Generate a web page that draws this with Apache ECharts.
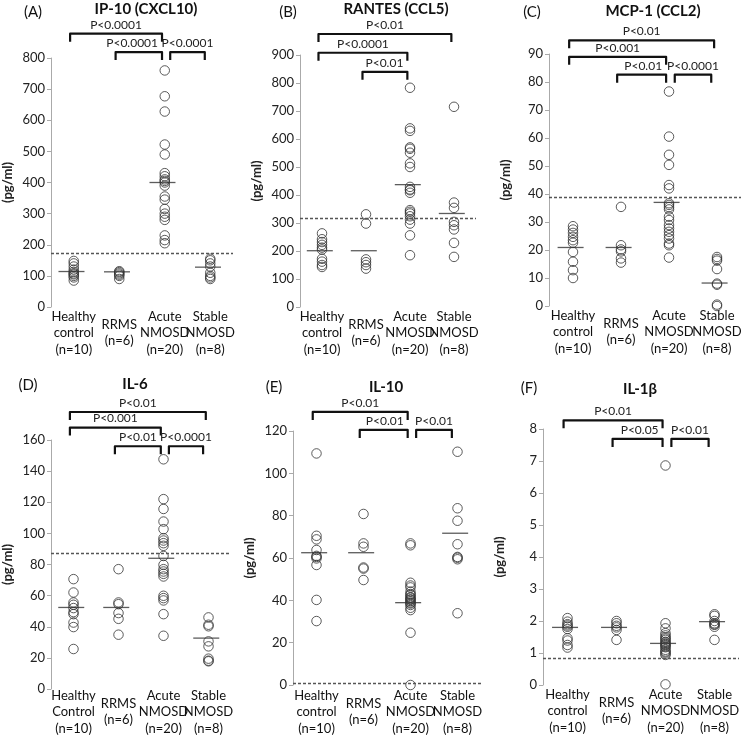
<!DOCTYPE html>
<html>
<head>
<meta charset="utf-8">
<script src="https://cdn.jsdelivr.net/npm/echarts@6/dist/echarts.min.js"></script>
<style>
  html, body { margin: 0; padding: 0; background: #fff; }
  #chart { width: 750px; height: 737px; }
</style>
</head>
<body>
<div id="chart"></div>
<script>
// grupos (eje x)
const groupsLower = ['Healthy\ncontrol\n(n=10)', 'RRMS\n(n=6)', 'Acute\nNMOSD\n(n=20)', 'Stable\nNMOSD\n(n=8)'];
const groupsUpper = ['Healthy\nControl\n(n=10)', 'RRMS\n(n=6)', 'Acute\nNMOSD\n(n=20)', 'Stable\nNMOSD\n(n=8)'];

// (A) IP-10
const ip10Values = [
  [148, 140, 130, 120, 113, 108, 105, 100, 95, 85],
  [115, 112, 108, 104, 100, 90],
  [760, 677, 628, 522, 490, 430, 420, 410, 405, 400, 390, 355, 345, 315, 300, 290, 280, 230, 215, 205],
  [155, 150, 140, 130, 110, 100, 95, 90]
];
const ip10Medians = [114, 113, 400, 128];
const ip10Cutoff = 173;
const ip10Brackets = [[0, 2, 878, 'P<0.0001'], [1, 2, 819, 'P<0.0001'], [2, 3, 819, 'P<0.0001']];

// (B) RANTES
const rantesValues = [
  [263, 242, 232, 222, 212, 205, 172, 162, 150, 143],
  [331, 298, 170, 160, 150, 137],
  [783, 638, 629, 570, 565, 551, 513, 500, 429, 420, 417, 408, 346, 340, 334, 324, 312, 298, 256, 185],
  [715, 373, 354, 304, 292, 277, 229, 179]
];
const rantesMedians = [201, 201, 437, 334];
const rantesCutoff = 318;
const rantesBrackets = [[0, 3, 975, 'P<0.01'], [0, 2, 908, 'P<0.0001'], [1, 2, 840, 'P<0.01']];

// (C) MCP-1
const mcp1Values = [
  [28.5, 27.3, 26.1, 24.7, 23.5, 22.6, 19.3, 15.8, 12.8, 10],
  [35.4, 21.7, 20.2, 19.5, 17, 15.5],
  [76.6, 60.5, 54, 50.4, 43.2, 42, 36.7, 36.1, 35.3, 34.5, 31.9, 30.7, 28.9, 27.7, 26.5, 25.3, 24.1, 22.3, 21.7, 17.3],
  [17.5, 16.8, 16.2, 13.2, 8, 7.6, 0.5, 0]
];
const mcp1Medians = [20.9, 20.9, 37, 8.2];
const mcp1Cutoff = 38.7;
const mcp1Brackets = [[0, 3, 94.9, 'P<0.01'], [0, 2, 89, 'P<0.001'], [1, 2, 82.6, 'P<0.01'], [2, 3, 82.6, 'P<0.0001']];

// (D) IL-6
const il6Values = [
  [70.6, 62, 55.6, 54.1, 52, 49.4, 48.1, 42.7, 39.8, 25.7],
  [77, 55.6, 54.5, 48.8, 45.1, 34.9],
  [147.6, 122, 115.7, 107.6, 102.7, 96.9, 95.4, 93.7, 92, 85.5, 79.8, 77, 75.5, 74, 72.3, 59.9, 58.4, 56.9, 48.1, 34.2],
  [46, 41.3, 40.3, 30.6, 27.4, 19.5, 18.2, 17.8]
];
const il6Medians = [52.4, 52.4, 84, 32.7];
const il6Cutoff = 87.3;
const il6Brackets = [[0, 3, 178, 'P<0.01'], [0, 2, 168, 'P<0.001'], [1, 2, 156, 'P<0.01'], [2, 3, 156, 'P<0.0001']];

// (E) IL-10
const il10Values = [
  [109.4, 70.5, 68.8, 63.8, 61, 60.5, 59.8, 56.7, 40.2, 30.2],
  [80.8, 66.9, 65.3, 55.5, 55, 49.6],
  [66.9, 66, 48.3, 47, 46.1, 44.1, 43, 42.5, 41.5, 41.2, 40.5, 40.2, 39.5, 38.9, 38.5, 37.8, 36.5, 35.4, 24.7, 0],
  [110.2, 83.5, 77.6, 66.5, 60.5, 60.1, 59.4, 33.9]
];
const il10Medians = [62.5, 62.5, 38.9, 71.7];
const il10Cutoff = 0.8;
const il10Brackets = [[0, 2, 129, 'P<0.01'], [1, 2, 120.5, 'P<0.01'], [2, 3, 120.5, 'P<0.01']];

// (F) IL-1β
const il1bValues = [
  [2.09, 1.98, 1.9, 1.86, 1.82, 1.75, 1.46, 1.39, 1.25, 1.17],
  [2.0, 1.93, 1.85, 1.8, 1.72, 1.41],
  [6.86, 1.93, 1.77, 1.62, 1.55, 1.49, 1.45, 1.41, 1.35, 1.32, 1.28, 1.25, 1.2, 1.18, 1.1, 1.05, 1.02, 0.98, 0.94, 0.02],
  [2.21, 2.16, 2.0, 1.93, 1.9, 1.88, 1.82, 1.41]
];
const il1bMedians = [1.8, 1.8, 1.3, 1.98];
const il1bCutoff = 0.84;
const il1bBrackets = [[0, 2, 8.27, 'P<0.01'], [1, 2, 7.69, 'P<0.05'], [2, 3, 7.69, 'P<0.01']];

const FONT = 'Lato, "Liberation Sans", sans-serif';

// paneles: datos + posición
const panels = [
  { values: ip10Values, medians: ip10Medians, cutoff: ip10Cutoff, brackets: ip10Brackets, labels: groupsLower,
    max: 800, interval: 100, grid: { left: 49, top: 58, width: 184, height: 249 }, margin: 26,
    tag: '(A)', tagPos: [33, 12], title: 'IP-10 (CXCL10)', titlePos: [146, 9] },
  { values: rantesValues, medians: rantesMedians, cutoff: rantesCutoff, brackets: rantesBrackets, labels: groupsLower,
    max: 900, interval: 100, grid: { left: 300, top: 55, width: 176, height: 252 }, margin: 26,
    tag: '(B)', tagPos: [288, 12], title: 'RANTES (CCL5)', titlePos: [396, 9] },
  { values: mcp1Values, medians: mcp1Medians, cutoff: mcp1Cutoff, brackets: mcp1Brackets, labels: groupsLower,
    max: 90, interval: 10, grid: { left: 549, top: 54, width: 192, height: 252 }, margin: 26,
    tag: '(C)', tagPos: [532, 12], title: 'MCP-1 (CCL2)', titlePos: [653, 11] },
  { values: il6Values, medians: il6Medians, cutoff: il6Cutoff, brackets: il6Brackets, labels: groupsUpper,
    max: 160, interval: 20, grid: { left: 45, top: 440, width: 186, height: 249 }, margin: 23,
    tag: '(D)', tagPos: [28, 385], title: 'IL-6', titlePos: [135, 384] },
  { values: il10Values, medians: il10Medians, cutoff: il10Cutoff, brackets: il10Brackets, labels: groupsLower,
    max: 120, interval: 20, grid: { left: 293, top: 431, width: 188, height: 254 }, margin: 27,
    tag: '(E)', tagPos: [274, 387], title: 'IL-10', titlePos: [386, 387] },
  { values: il1bValues, medians: il1bMedians, cutoff: il1bCutoff, brackets: il1bBrackets, labels: groupsLower,
    max: 8, interval: 1, grid: { left: 543, top: 429, width: 196, height: 256 }, margin: 26,
    tag: '(F)', tagPos: [529, 388], title: 'IL-1β', titlePos: [640, 389] }
];

// corchete de significancia con su texto
function bracketRender(labels, inner) {
  return function (params, api) {
    const a = api.coord([api.value(0), api.value(2)]);
    const b = api.coord([api.value(1), api.value(2)]);
    const k = api.value(3);
    // el corchete interior (RRMS -> Acute) lleva el texto alineado a la derecha
    const right = inner[k];
    return {
      type: 'group',
      children: [
        { type: 'polyline',
          shape: { points: [[a[0], a[1] + 8], [a[0], a[1]], [b[0], b[1]], [b[0], b[1] + 8]] },
          style: { stroke: '#111', lineWidth: 2.2, fill: null, lineJoin: 'round' } },
        { type: 'text',
          style: { text: labels[k], x: right ? b[0] - 4 : (a[0] + b[0]) / 2, y: a[1] - 3,
                   align: right ? 'right' : 'center', verticalAlign: 'bottom',
                   font: '12px ' + FONT, fill: '#222' } }
      ]
    };
  };
}

const grids = [], xAxes = [], yAxes = [], series = [], graphics = [];

panels.forEach((p, i) => {
  grids.push(Object.assign({ containLabel: false }, p.grid));
  // eje de categorías (solo etiquetas)
  xAxes.push({
    type: 'category', gridIndex: i, data: p.labels,
    axisLine: { show: false }, axisTick: { show: false },
    axisLabel: { interval: 0, color: '#111', fontFamily: FONT, fontSize: 13, lineHeight: 16.5,
                 verticalAlign: 'middle', margin: p.margin }
  });
  // eje numérico oculto para dibujar
  xAxes.push({ type: 'value', gridIndex: i, min: -0.5, max: 3.5, show: false });
  yAxes.push({
    type: 'value', gridIndex: i, min: 0, max: p.max, interval: p.interval,
    name: '(pg/ml)', nameLocation: 'middle', nameGap: 37,
    nameTextStyle: { fontFamily: FONT, fontSize: 13, fontWeight: 'bold', color: '#222' },
    axisLine: { show: true, onZero: false, lineStyle: { color: '#aaa', width: 1 } },
    axisTick: { show: true, length: 4, lineStyle: { color: '#aaa' } },
    splitLine: { show: false },
    axisLabel: { color: '#222', fontFamily: FONT, fontSize: 13, margin: 6 }
  });
  const xi = 2 * i + 1;

  const pts = [];
  p.values.forEach((arr, g) => arr.forEach(v => pts.push([g, v])));
  series.push({
    type: 'scatter', xAxisIndex: xi, yAxisIndex: i, data: pts, clip: false,
    symbol: 'circle', symbolSize: 9.5,
    itemStyle: { color: 'rgba(255,255,255,0)', borderColor: '#333', borderWidth: 1 },
    markLine: {
      silent: true, symbol: 'none', label: { show: false },
      lineStyle: { color: '#555', type: [3, 2], width: 1.3 },
      data: [{ yAxis: p.cutoff }]
    },
    z: 3
  });
  // medianas
  series.push({
    type: 'scatter', xAxisIndex: xi, yAxisIndex: i, clip: false,
    data: p.medians.map((m, g) => [g - 0.05, m]),
    symbol: 'rect', symbolSize: [26, 1.3],
    itemStyle: { color: '#333' }, z: 4
  });
  // corchetes
  const labels = p.brackets.map(b => b[3]);
  const inner = p.brackets.map(b => b[0] === 1 && b[1] === 2);
  series.push({
    type: 'custom', xAxisIndex: xi, yAxisIndex: i, clip: false,
    renderItem: bracketRender(labels, inner),
    encode: { x: [0, 1], y: 2 },
    data: p.brackets.map((b, k) => {
      const x1 = b[0] + (b[0] === 2 ? 0.12 : -0.08);
      const x2 = b[1] + (b[0] === 2 ? -0.12 : -0.06);
      return [x1, x2, b[2], k];
    }),
    z: 5
  });

  graphics.push({ type: 'text', x: p.tagPos[0], y: p.tagPos[1],
    style: { text: p.tag, font: '15px ' + FONT, fill: '#111', align: 'center', verticalAlign: 'middle' } });
  graphics.push({ type: 'text', x: p.titlePos[0], y: p.titlePos[1],
    style: { text: p.title, font: 'bold 15px ' + FONT, fill: '#111', align: 'center', verticalAlign: 'middle' } });
});

const chart = echarts.init(document.getElementById('chart'));
chart.setOption({
  backgroundColor: '#ffffff',
  animation: false,
  grid: grids,
  xAxis: xAxes,
  yAxis: yAxes,
  series: series,
  graphic: graphics
});
</script>
</body>
</html>
